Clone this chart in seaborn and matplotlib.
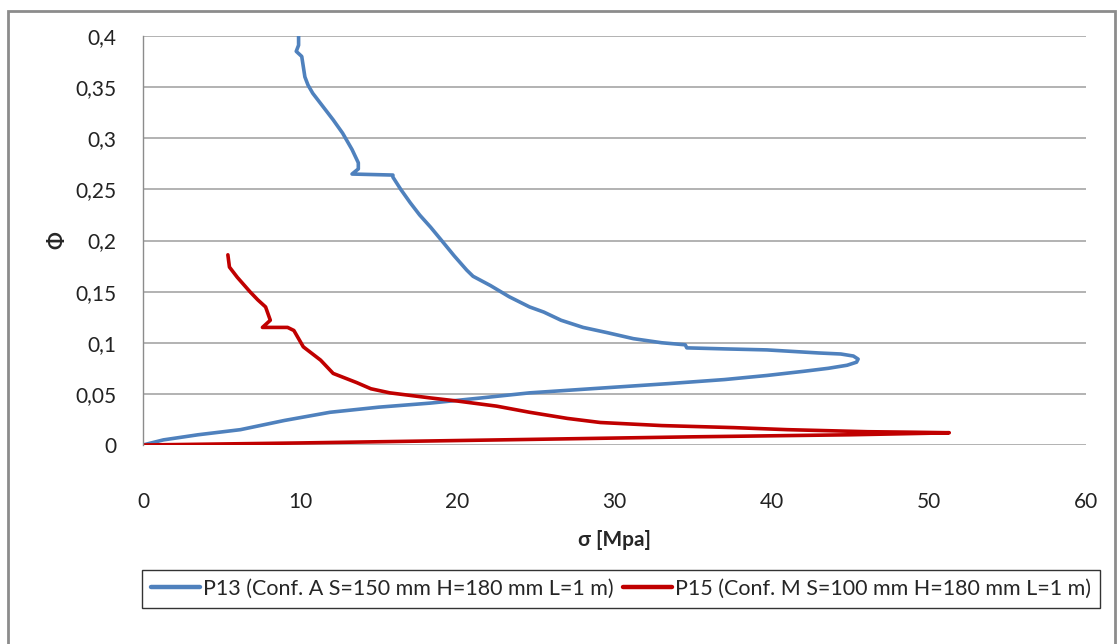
import matplotlib
matplotlib.use("Agg")
import matplotlib.pyplot as plt
from matplotlib.patches import Rectangle
import numpy as np
import pandas as pd
import seaborn as sns

# P13 (Conf. A) stress-strain path
p13_sigma = [0, 1.3, 3.5, 6.2, 9.0, 11.9, 15.0, 18.3, 21.5, 24.6, 28.5, 33.4, 37.0,
             39.7, 42.0, 43.6, 44.8, 45.4, 45.5, 45.2, 44.4, 43.0, 39.7, 37.0, 34.6,
             34.5, 33.0, 31.2, 29.5, 28.0, 26.6, 25.5, 24.6, 23.3, 22.1, 21.0, 20.6,
             19.8, 19.0, 18.3, 17.6, 17.0, 16.4, 15.9, 15.9, 13.3, 13.7, 13.7, 13.3,
             12.7, 12.1, 11.5, 10.8, 10.5, 10.3, 10.1, 9.75, 9.9, 9.9]
p13_phi = [0, 0.005, 0.010, 0.015, 0.024, 0.032, 0.037, 0.041, 0.046, 0.051, 0.055,
           0.060, 0.064, 0.068, 0.072, 0.075, 0.078, 0.081, 0.084, 0.087, 0.089,
           0.090, 0.093, 0.094, 0.095, 0.098, 0.100, 0.104, 0.110, 0.115, 0.122,
           0.130, 0.135, 0.145, 0.156, 0.165, 0.171, 0.185, 0.200, 0.213, 0.225,
           0.237, 0.250, 0.262, 0.264, 0.265, 0.270, 0.276, 0.289, 0.305, 0.318,
           0.330, 0.344, 0.352, 0.360, 0.380, 0.385, 0.391, 0.400]

# P15 (Conf. M) stress-strain path
p15_sigma = [0, 10, 22.7, 35, 45, 50.0, 51.3, 49.0, 46.1, 41, 37.6, 33, 29.1, 27, 24.6,
             22.5, 20, 18.3, 15.7, 14.5, 13.6, 12.1, 11.3, 10.2, 9.6, 9.2, 7.6, 8.1,
             7.8, 7.3, 6.8, 6.0, 5.5, 5.4]
p15_phi = [0, 0.002, 0.005, 0.008, 0.010, 0.0115, 0.012, 0.0125, 0.013, 0.015, 0.017,
           0.019, 0.022, 0.026, 0.032, 0.038, 0.043, 0.046, 0.051, 0.055, 0.061,
           0.070, 0.083, 0.096, 0.112, 0.115, 0.115, 0.122, 0.135, 0.142, 0.150,
           0.164, 0.174, 0.186]

labels = ["P13 (Conf. A S=150 mm H=180 mm L=1 m)",
          "P15 (Conf. M S=100 mm H=180 mm L=1 m)"]
colors = ["#4F81BD", "#C00000"]

x_ticks = [0, 10, 20, 30, 40, 50, 60]
y_ticks = [0, 0.05, 0.1, 0.15, 0.2, 0.25, 0.3, 0.35, 0.4]
y_tick_labels = ["0", "0,05", "0,1", "0,15", "0,2", "0,25", "0,3", "0,35", "0,4"]

df = pd.concat([
    pd.DataFrame({"sigma": p13_sigma, "phi": p13_phi, "serie": labels[0]}),
    pd.DataFrame({"sigma": p15_sigma, "phi": p15_phi, "serie": labels[1]}),
], ignore_index=True)

sns.set_style("white")
plt.rcParams["font.family"] = ["Lato", "DejaVu Sans"]

W, H = 1118, 644
fig = plt.figure(figsize=(W / 100, H / 100), dpi=100)
ax = fig.add_axes([143 / W, 1 - 445 / H, (1086 - 143) / W, (445 - 36) / H])

sns.lineplot(data=df, x="sigma", y="phi", hue="serie", estimator=None, sort=False,
             palette=colors, linewidth=2.6, ax=ax)
for line in ax.get_lines():
    line.set_solid_joinstyle("round")
    line.set_solid_capstyle("round")

ax.set_xlim(0, 60)
ax.set_ylim(0, 0.4)
ax.set_xticks(x_ticks)
ax.set_xticklabels([str(v) for v in x_ticks])
ax.set_yticks(y_ticks)
ax.set_yticklabels(y_tick_labels)
ax.tick_params(axis="both", length=0, labelsize=15, colors="#222222")
ax.tick_params(axis="x", pad=34)
ax.tick_params(axis="y", pad=19)

ax.grid(axis="y", color="#A6A6A6", linewidth=1.2)
ax.set_axisbelow(True)
for side in ["top", "right", "bottom"]:
    ax.spines[side].set_visible(False)
ax.spines["left"].set_color("#8C8C8C")
ax.spines["left"].set_linewidth(1.0)

ax.set_xlabel("σ [Mpa]", fontsize=15, fontweight="bold", labelpad=13)
ax.set_ylabel("Φ", fontsize=15, fontweight="bold", labelpad=6)

# outer chart frame
fig.patches.append(Rectangle((8 / W, -0.02), (1115 - 8) / W, (H - 11) / H + 0.02,
                             transform=fig.transFigure, fill=False,
                             edgecolor="#8C8C8C", linewidth=2.0))

ax.get_legend().remove()
handles = [plt.Line2D([], [], color=c, lw=3.2) for c in colors]
leg = fig.legend(handles, labels, loc="center",
                 bbox_to_anchor=((133 + 1109) / 2 / W, 1 - 589 / H),
                 ncol=2, fontsize=15.5, frameon=True, fancybox=False,
                 edgecolor="black", handlelength=2.3, handletextpad=0.15,
                 columnspacing=0.4, borderpad=0.4)
leg.get_frame().set_linewidth(1.0)

fig.savefig("out.png", dpi=100, facecolor="white")
